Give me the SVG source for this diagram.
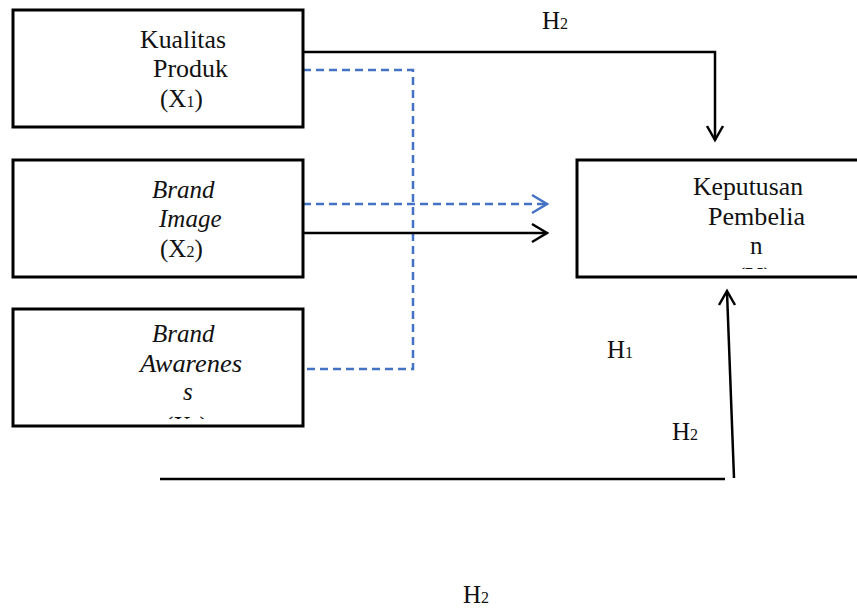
<svg xmlns="http://www.w3.org/2000/svg" width="857" height="608" viewBox="0 0 857 608">
<style>
.box{fill:#fff;stroke:#000;stroke-width:3}
.t{font-family:"Liberation Serif","Times New Roman",serif;font-size:25px;fill:#111}
.i{font-style:italic}
.sub{font-size:16px}
.ln{fill:none;stroke:#000;stroke-width:2.5}
.dash{fill:none;stroke:#4472C4;stroke-width:2.5;stroke-dasharray:8 5}
.ahb{fill:none;stroke:#000;stroke-width:2.5;stroke-linejoin:miter}
.ahd{fill:none;stroke:#4472C4;stroke-width:2.5}
</style>
<defs>
<clipPath id="c3"><rect x="14" y="310" width="288" height="109"/></clipPath>
<clipPath id="cy"><rect x="578" y="161" width="290" height="108"/></clipPath>
</defs>
<rect width="857" height="608" fill="#fff"/>
<g id="connectors">
<polyline class="ln" points="303,52 715,52 715,140"/>
<polyline class="ahb" points="707,126 715,140 723,126"/>
<polyline class="dash" points="303,70 413,70 413,369 303,369"/>
<line class="dash" x1="303" y1="204" x2="546" y2="204"/>
<polyline class="ahd" points="532,195 547,204 532,213"/>
<line class="ln" x1="303" y1="233" x2="547" y2="233"/>
<polyline class="ahb" points="532,224 547,233 532,242"/>
<line class="ln" x1="160" y1="479" x2="725" y2="479"/>
<line class="ln" x1="734" y1="478" x2="727" y2="292"/>
<polyline class="ahb" points="719,305 727,291 735,305"/>
</g>
<g id="x1">
<rect class="box" x="13" y="10" width="290" height="117"/>
<text class="t" x="140" y="48" textLength="86" lengthAdjust="spacingAndGlyphs">Kualitas</text>
<text class="t" x="153" y="77" textLength="75" lengthAdjust="spacingAndGlyphs">Produk</text>
<text class="t" x="160" y="107">(X<tspan class="sub">1</tspan>)</text>
</g>
<g id="x2">
<rect class="box" x="13" y="160" width="290" height="117"/>
<text class="t i" x="152" y="198">Brand</text>
<text class="t i" x="159" y="227">Image</text>
<text class="t" x="160" y="257">(X<tspan class="sub">2</tspan>)</text>
</g>
<g id="x3">
<rect class="box" x="13" y="309" width="290" height="117"/>
<text class="t i" x="152" y="342">Brand</text>
<text class="t i" x="140" y="372" textLength="102" lengthAdjust="spacingAndGlyphs">Awarenes</text>
<text class="t i" x="183" y="400">s</text>
<text class="t" x="165" y="434" clip-path="url(#c3)">(X<tspan class="sub">3</tspan>)</text>
</g>
<g id="y">
<rect class="box" x="577" y="160" width="300" height="117"/>
<text class="t" x="693" y="195" textLength="110" lengthAdjust="spacingAndGlyphs">Keputusan</text>
<text class="t" x="708" y="225" textLength="97" lengthAdjust="spacingAndGlyphs">Pembelia</text>
<text class="t" x="750" y="254">n</text>
<text class="t" x="737" y="285" clip-path="url(#cy)">(Y)</text>
</g>
<g id="labels">
<text class="t" x="542" y="29">H<tspan class="sub">2</tspan></text>
<text class="t" x="607" y="358">H<tspan class="sub">1</tspan></text>
<text class="t" x="672" y="440">H<tspan class="sub">2</tspan></text>
<text class="t" x="463" y="603">H<tspan class="sub">2</tspan></text>
</g>
</svg>
